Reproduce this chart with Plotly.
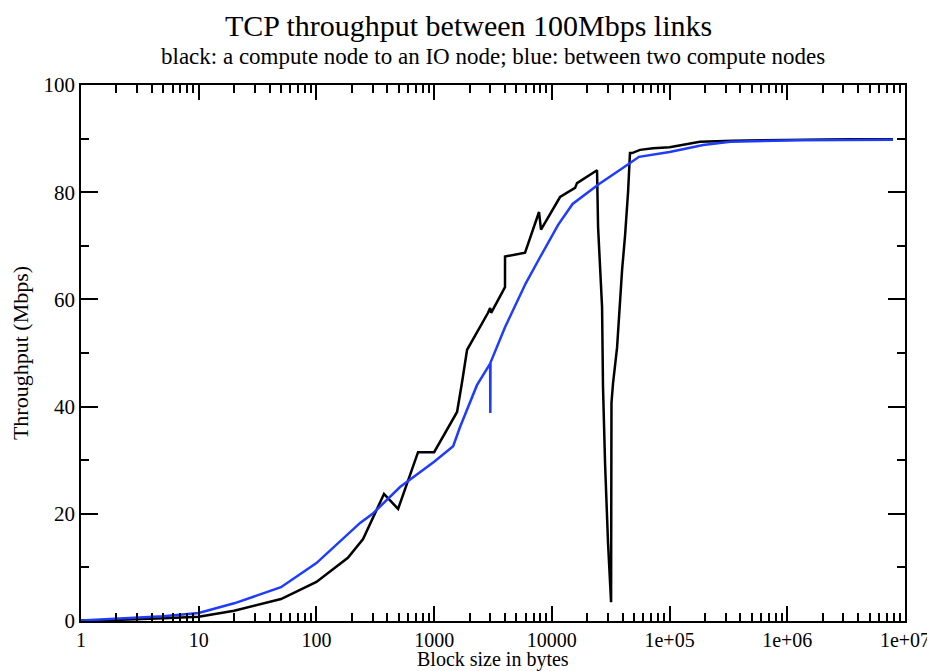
import plotly.graph_objects as go

# Black: compute node -> IO node
black_x = [1, 2, 5, 10, 20, 50, 100, 185, 249, 375, 494, 730, 1000, 1450, 1566,
           1727, 1905, 2870, 2990, 3050, 4000, 4001, 5920, 7780, 8090, 11740,
           15740, 16360, 23300, 24200, 24700, 26700, 27200, 28300, 30000, 31850,
           32100, 33100, 35800, 39500, 41900, 44400, 46100, 48000, 56100, 72400,
           100000, 141000, 181000, 346000, 622000, 3410000, 7900000]
black_y = [0.1, 0.2, 0.5, 0.8, 1.9, 4.1, 7.3, 11.8, 15.3, 23.7, 20.9, 31.5, 31.5,
           37.5, 39.0, 44.6, 50.6, 57.5, 58.4, 57.5, 62.3, 68.0, 68.7, 76.3, 73.0,
           79.1, 80.8, 81.7, 83.8, 84.1, 73.5, 58.6, 43.7, 29.5, 14.6, 3.5, 40.7,
           44.4, 51.0, 65.5, 72.0, 80.0, 87.3, 87.3, 87.9, 88.2, 88.4, 89.0, 89.4,
           89.6, 89.7, 89.9, 89.9]

# Blue: between two compute nodes
blue_x = [1, 2, 5, 10, 20, 50, 100, 235, 300, 513, 620, 1000, 1450, 1660, 2310,
          2990, 3000, 3010, 4000, 6000, 8000, 11300, 15000, 25000, 40000, 46000,
          55000, 100000, 193000, 327000, 622000, 1210000, 7900000]
blue_y = [0.1, 0.4, 0.9, 1.5, 3.3, 6.3, 10.8, 18.3, 20.0, 25.0, 26.3, 29.7, 32.6,
          36.2, 44.0, 48.0, 38.8, 48.2, 54.8, 63.0, 68.0, 73.9, 77.8, 81.5, 84.5,
          85.4, 86.6, 87.5, 88.8, 89.4, 89.6, 89.7, 89.8]

x_tickvals = [1, 10, 100, 1000, 10000, 1e5, 1e6, 1e7]
x_ticktext = ["1", "10", "100", "1000", "10000", "1e+05", "1e+06", "1e+07"]
x_minor = [m * 10 ** d for d in range(7) for m in range(2, 10)]
y_tickvals = [0, 20, 40, 60, 80, 100]

FONT = "Liberation Serif"

fig = go.Figure()
fig.add_trace(go.Scatter(x=black_x, y=black_y, mode="lines",
                         line=dict(color="black", width=2.5), showlegend=False))
fig.add_trace(go.Scatter(x=blue_x, y=blue_y, mode="lines",
                         line=dict(color="#1e3cff", width=2.5), showlegend=False))

# page body has an 8px margin, so the figure is 8px smaller than the window
fig.update_layout(
    width=927, height=663,
    margin=dict(l=73, r=30, t=77, b=50, autoexpand=False),
    paper_bgcolor="white", plot_bgcolor="white",
    font=dict(family=FONT, color="black", size=21),
    showlegend=False,
    annotations=[
        dict(text="TCP throughput between 100Mbps links", x=0.47, xref="paper",
             y=1, yref="paper", yanchor="bottom", yshift=41, showarrow=False,
             font=dict(size=30, family=FONT)),
        dict(text="black: a compute node to an IO node; blue: between two compute nodes",
             x=0.5, xref="paper", y=1, yref="paper", yanchor="bottom", yshift=14,
             showarrow=False, font=dict(size=23, family=FONT)),
        dict(text="Block size in bytes", x=0.5, xref="paper", y=0, yref="paper",
             yanchor="bottom", yshift=-51, showarrow=False, borderpad=0,
             font=dict(size=20, family=FONT)),
    ],
)

fig.update_xaxes(
    type="log", range=[0, 7], automargin=False,
    tickvals=x_tickvals, ticktext=x_ticktext,
    ticks="inside", ticklen=15, tickwidth=1.5, tickcolor="black",
    minor=dict(tickvals=x_minor, ticks="inside", ticklen=8, tickwidth=1.5,
               tickcolor="black", showgrid=False),
    showline=True, linecolor="black", linewidth=1.5, mirror="allticks",
    showgrid=False, zeroline=False,
    tickfont=dict(size=20, family=FONT),
)
fig.update_yaxes(
    range=[0, 100], automargin=False,
    tickvals=y_tickvals,
    ticks="inside", ticklen=17, tickwidth=1.5, tickcolor="black",
    minor=dict(dtick=10, ticks="inside", ticklen=8, tickwidth=1.5,
               tickcolor="black", showgrid=False),
    showline=True, linecolor="black", linewidth=1.5, mirror="allticks",
    showgrid=False, zeroline=False,
    tickfont=dict(size=21, family=FONT),
    title=dict(text="Throughput (Mbps)", font=dict(size=22, family=FONT)),
)

fig.write_html("out.html")
